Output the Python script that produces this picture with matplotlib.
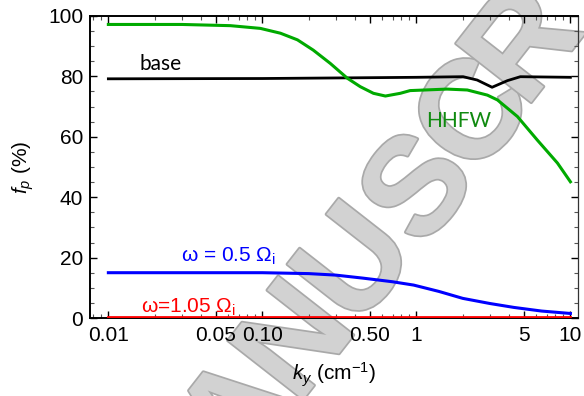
import matplotlib
matplotlib.use("Agg")
import matplotlib.pyplot as plt
import matplotlib.patheffects as pe
from matplotlib.ticker import FixedLocator, FixedFormatter, MultipleLocator

plt.rcParams['font.family'] = ['Liberation Sans', 'DejaVu Sans']
plt.rcParams['mathtext.fontset'] = 'custom'
plt.rcParams['mathtext.rm'] = 'Liberation Sans'
plt.rcParams['mathtext.it'] = 'Liberation Sans:italic'

# 功率沉积比例 f_p 随 k_y 的变化
k_green = [0.01, 0.03, 0.062, 0.097, 0.131, 0.169, 0.214, 0.276, 0.356, 0.432, 0.526,
           0.629, 0.786, 0.91, 1.58, 2.14, 2.89, 3.36, 4.53, 6.1, 8.24, 10]
fp_green = [97.2, 97.2, 96.8, 95.9, 94.3, 92.1, 88.7, 84.3, 79.4, 76.6, 74.4,
            73.5, 74.4, 75.3, 75.8, 75.5, 73.8, 72.2, 66.7, 58.9, 51.3, 45.1]

k_base = [0.01, 0.1, 0.58, 1.0, 2.01, 2.48, 3.1, 3.9, 4.73, 10]
fp_base = [79.2, 79.3, 79.6, 79.7, 79.9, 78.8, 76.4, 78.6, 79.9, 79.7]

k_blue = [0.01, 0.1, 0.2, 0.3, 0.45, 0.7, 0.96, 1.4, 2.0, 3.0, 4.3, 6.5, 10]
fp_blue = [15.0, 15.0, 14.7, 14.2, 13.2, 12.0, 10.9, 8.8, 6.5, 4.8, 3.5, 2.3, 1.5]

k_red = [0.01, 0.1, 1, 10]
fp_red = [0.2, 0.2, 0.2, 0.2]

xticks = [0.01, 0.05, 0.1, 0.5, 1, 5, 10]
xticklabels = ["0.01", "0.05", "0.10", "0.50", "1", "5", "10"]
xminor = [0.008, 0.009, 0.02, 0.03, 0.04, 0.06, 0.07, 0.08, 0.09,
          0.2, 0.3, 0.4, 0.6, 0.7, 0.8, 0.9, 2, 3, 4, 6, 7, 8, 9]

# 水印字母及其中心（像素，左上角为原点）
wm_letters = ["M", "A", "N", "U", "S", "C", "R"]
wm_centers = [(186, 490), (243, 418), (300, 345), (360, 268), (423, 192), (478, 118), (528, 48)]

W, H = 584, 396
fig = plt.figure(figsize=(W / 100, H / 100), dpi=100)
ax = fig.add_axes([90 / W, 1 - 318 / H, 488 / W, 302 / H])

ax.plot(k_red, fp_red, color='#ff0000', lw=2.0, zorder=3)
ax.plot(k_blue, fp_blue, color='#0000ff', lw=2.2, zorder=3)
ax.plot(k_base, fp_base, color='black', lw=2.0, zorder=3)
ax.plot(k_green, fp_green, color='#00aa00', lw=2.2, zorder=3)

ax.set_xscale('log')
ax.set_xlim(0.0076, 11.2)
ax.set_ylim(0, 100)

ax.xaxis.set_major_locator(FixedLocator(xticks))
ax.xaxis.set_major_formatter(FixedFormatter(xticklabels))
ax.xaxis.set_minor_locator(FixedLocator(xminor))
ax.xaxis.set_minor_formatter(FixedFormatter([]))
ax.yaxis.set_major_locator(MultipleLocator(20))
ax.yaxis.set_minor_locator(MultipleLocator(5))

ax.tick_params(which='both', direction='in', top=True, right=True, labelsize=15)
ax.tick_params(which='major', length=5, width=1)
ax.tick_params(which='minor', length=3, width=0.8, color='#555555')
ax.tick_params(axis='x', pad=6)
ax.tick_params(axis='y', pad=5)
for s in ['left', 'bottom', 'top']:
    ax.spines[s].set_linewidth(1.4)
ax.spines['right'].set_linewidth(0.9)
ax.spines['right'].set_color('#333333')

ax.set_xlabel(r"$k_y$ (cm$^{-1}$)", fontsize=15)
ax.set_ylabel(r"$f_p$ (%)", fontsize=15)
ax.xaxis.set_label_coords(0.5, -0.14)
ax.yaxis.set_label_coords(-0.11, 0.5)

# 曲线标注
ax.text(0.0218, 82, "base", fontsize=15, family=['Lato'], ha='center', va='baseline', zorder=4)
ax.text(1.875, 63.2, "HHFW", fontsize=15, family=['Lato'], color='#108a10',
        ha='center', va='baseline', zorder=4)
ax.text(0.060, 18.6, "ω = 0.5 Ω$_\\mathregular{i}$", fontsize=15, color='#0000ff',
        ha='center', va='baseline', zorder=4)
ax.text(0.033, 1.9, "ω=1.05 Ω$_\\mathregular{i}$", fontsize=15, color='#ff0000',
        ha='center', va='baseline', zorder=4)

# 水印（放在曲线下面）
for ch, (px, py) in zip(wm_letters, wm_centers):
    ax.text(px / W, 1 - py / H, ch, transform=fig.transFigure,
            fontsize=100, fontweight='bold', color='#d2d2d2', rotation=52,
            ha='center', va='center', rotation_mode='anchor', zorder=0.5, clip_on=False,
            path_effects=[pe.Stroke(linewidth=2.5, foreground='#a9a9a9'), pe.Normal()])

fig.savefig("out.png", dpi=100)
